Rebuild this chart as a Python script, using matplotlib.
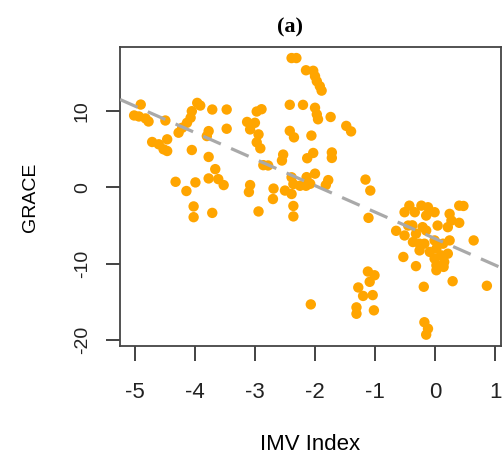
import numpy as np
import matplotlib
matplotlib.use('Agg')
import matplotlib.pyplot as plt

# values
imv_index = [
    -4.90, -5.01, -4.93, -4.82, -4.77, -4.49, -3.96, -3.91, -4.05, -4.07,
    -4.13, -4.21, -4.27, -3.71, -3.47, -3.47, -3.77, -3.80, -4.71, -4.60,
    -4.46, -4.52, -4.46, -4.05, -3.77, -3.66, -3.77, -3.61, -3.52, -4.32,
    -3.99, -4.14, -4.02, -4.02, -3.71,
    -3.13, -3.08, -2.97, -2.89, -3.00, -2.94, -2.97, -2.91, -2.86, -2.78,
    -2.53, -2.55, -3.08, -3.10, -2.94, -2.69, -2.70, -2.50, -2.39, -2.36,
    -2.36, -2.39, -2.31, -2.42, -2.42, -2.35, -2.39, -2.36, -2.25, -2.15,
    -2.14, -2.00, -2.08, -1.78, -1.82, -2.15, -2.03, -2.00, -1.97, -1.92,
    -1.89, -2.20, -2.00, -1.97, -1.95, -1.74, -1.48, -1.40, -2.06, -2.03,
    -2.13, -1.72, -1.72,
    -1.16, -1.08, -1.11, -1.12, -1.01, -1.09, -1.28, -1.20, -1.04, -1.31,
    -1.31, -1.02, -2.07,
    -0.65, -0.53, -0.32, -0.19, -0.18, -0.12, -0.15, 0.29, 0.86, 0.64,
    0.40, 0.47, 0.40, -0.43, -0.23, -0.12, -0.51, -0.34, -0.15, -0.01,
    0.24, -0.45, -0.51, -0.32, -0.15, 0.04, 0.21, 0.27, -0.37, -0.18,
    -0.01, 0.13, 0.24, -0.26, -0.09, 0.02, 0.10, 0.21, -0.01, 0.02,
    0.15, 0.02, 0.14, -0.38, -0.21, -0.26,
]
grace = [
    10.86, 9.43, 9.30, 9.04, 8.64, 8.77, 11.08, 10.73, 9.99, 9.13,
    8.47, 7.82, 7.17, 10.21, 10.21, 7.69, 7.38, 6.73, 5.95, 5.65,
    6.30, 4.99, 4.77, 4.90, 3.99, 2.39, 1.17, 1.08, 0.30, 0.73,
    0.65, -0.48, -2.50, -3.91, -3.35,
    8.58, 7.60, 9.95, 10.25, 8.47, 6.95, 5.91, 5.12, 2.91, 2.87,
    4.30, 3.52, 0.30, -0.61, -3.16, -0.16, -1.53, -0.42, -0.87, -2.44,
    -3.81, 16.96, 16.96, 10.83, 7.41, 6.56, 1.32, 0.43, 0.21, 0.21,
    1.34, 1.80, 0.47, 0.95, 0.30, 15.36, 15.29, 14.58, 13.92, 13.27,
    12.69, 10.82, 10.44, 9.58, 8.93, 9.23, 8.06, 7.34, 6.79, 4.51,
    3.82, 4.58, 3.86,
    1.02, -0.42, -4.00, -11.04, -11.53, -12.39, -13.13, -14.24, -14.13, -15.74,
    -16.58, -16.13, -15.35,
    -5.70, -9.13, -10.33, -13.04, -17.69, -18.54, -19.32, -12.31, -12.91, -6.96,
    -2.40, -2.44, -4.65, -2.40, -2.40, -2.61, -3.26, -3.26, -3.70, -3.26,
    -3.48, -5.01, -6.31, -6.09, -5.66, -5.01, -5.22, -4.35, -7.17, -7.39,
    -6.96, -7.39, -6.96, -8.27, -8.47, -8.04, -8.92, -8.70, -9.35, -10.22,
    -9.78, -10.87, -10.43, -4.98, -5.22, -7.39,
]
x_ticks = [-5, -4, -3, -2, -1, 0, 1]
y_ticks = [-20, -10, 0, 10]

plt.rcParams['font.family'] = ['Liberation Sans', 'DejaVu Sans']

fig = plt.figure(figsize=(5.03, 4.63), dpi=100)
ax = fig.add_axes([0.2386, 0.2533, 0.7574, 0.6452])

x = np.array(imv_index)
y = np.array(grace)
ax.scatter(x, y, s=56, c='#FFA500', edgecolors='none', zorder=2)

# R-style range: data range padded by 4% on each side
xr = x.max() - x.min()
yr = y.max() - y.min()
ax.set_xlim(x.min() - 0.04 * xr, x.max() + 0.04 * xr)
ax.set_ylim(y.min() - 0.04 * yr, y.max() + 0.04 * yr)

# least squares fit, drawn across the whole plot like abline()
slope, icpt = np.polyfit(x, y, 1)
xs = np.array(ax.get_xlim())
ax.plot(xs, icpt + slope * xs, c='#A9A9A9', lw=2.3, dashes=(6, 3.5), zorder=3)

ax.set_xticks(x_ticks)
ax.set_xticklabels([str(v) for v in x_ticks], fontsize=16)
ax.set_yticks(y_ticks)
ax.set_yticklabels([str(v) for v in y_ticks], fontsize=14, rotation=90, va='center')
ax.tick_params(axis='x', length=11, width=1.2, pad=15, colors='#222222')
ax.tick_params(axis='y', length=10, width=1.2, pad=11, colors='#222222')
for sp in ax.spines.values():
    sp.set_color('#444444')
    sp.set_linewidth(1.3)

fig.text(310 / 503, 1 - 445 / 463, 'IMV Index', ha='center', va='center', fontsize=16)
fig.text(31 / 503, 1 - 197 / 463, 'GRACE', ha='center', va='center', rotation=90, fontsize=14)
fig.text(290 / 503, 1 - 27 / 463, '(a)', ha='center', va='center', fontsize=16,
         fontweight='bold', family=['Liberation Serif', 'DejaVu Serif'])

fig.savefig('out.png', dpi=100)
